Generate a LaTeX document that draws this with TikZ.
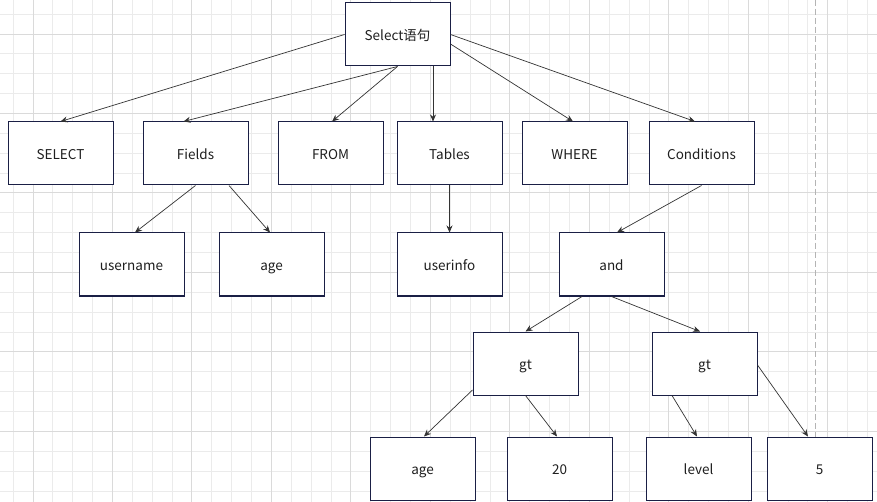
\documentclass[tikz,border=0pt]{standalone}
\usepackage{fontspec}
\newfontfamily\cjkfont{Noto Sans CJK SC}
\usetikzlibrary{arrows.meta}
\definecolor{boxline}{HTML}{1A1F45}
\definecolor{linegray}{HTML}{333333}
\definecolor{gridminor}{HTML}{EBEBEB}
\definecolor{gridmajor}{HTML}{DADADA}
\definecolor{pagebreak}{HTML}{B4B4B4}
\begin{document}
\begin{tikzpicture}[x=1pt,y=-1pt,font=\cjkfont\fontsize{13.5}{16}\selectfont,>={Stealth[length=7pt,width=6pt]},
 block/.style={draw=boxline,line width=1pt,fill=white,text=black!88,minimum width=105pt,minimum height=63pt,inner sep=0pt,text height=13pt,text depth=1pt},
 line/.style={->,draw=linegray,line width=.7pt},
 minor/.style={draw=gridminor,line width=.9pt},
 major/.style={draw=gridmajor,line width=.9pt}]
\useasboundingbox (0,0) rectangle (877,502);
% background grid
\begin{scope}
\clip (0,0) rectangle (877,502);
\fill[white] (0,0) rectangle (877,502);
\foreach \i in {0,...,44} \draw[minor] ({13.1+19.87*\i},0) -- ++(0,502);
\foreach \j in {0,...,25} \draw[minor] (0,{14.1+19.87*\j}) -- ++(877,0);
\foreach \i in {1,5,...,41} \draw[major] ({13.1+19.87*\i},0) -- ++(0,502);
\foreach \j in {1,5,...,25} \draw[major] (0,{14.1+19.87*\j}) -- ++(877,0);
\draw[pagebreak,line width=.9pt,dash pattern=on 6pt off 3pt] (815,0) -- (815,502);
\end{scope}
% nodes
\node[block] (sel) at (397.5,34.5) {Select语句};
\node[block] (select) at (60.5,153.5) {SELECT};
\node[block] (fields) at (195.5,153.5) {Fields};
\node[block] (from) at (330.5,153.5) {FROM};
\node[block] (tables) at (449.5,153.5) {Tables};
\node[block] (where) at (574.5,153.5) {WHERE};
\node[block] (cond) at (701.5,153.5) {Conditions};
\node[block] (user) at (131.5,264.5) {username};
\node[block] (age) at (271.5,264.5) {age};
\node[block] (info) at (449.5,264.5) {userinfo};
\node[block] (and) at (611.5,264.5) {and};
\node[block] (gtl) at (525.5,363.5) {gt};
\node[block] (gtr) at (704.5,363.5) {gt};
\node[block] (agev) at (422.5,468.5) {age};
\node[block] (twenty) at (559.5,468.5) {20};
\node[block] (level) at (698.5,468.5) {level};
\node[block] (five) at (819.5,468.5) {5};
% connectors
\draw[line] (sel.west) -- (select.north);
\draw[line] (sel.south) -- ([xshift=-12pt]fields.north);
\draw[line] (sel.south) -- ([xshift=1.5pt]from.north);
\draw[line] ([xshift=35.5pt]sel.south) -- ([xshift=-16.5pt]tables.north);
\draw[line] ([yshift=-9.5pt]sel.east) -- ([xshift=-1.5pt]where.north);
\draw[line] (sel.east) -- ([xshift=-6.5pt]cond.north);
\draw[line] (fields.south) -- ([xshift=3.5pt]user.north);
\draw[line] ([xshift=33.5pt]fields.south) -- ([xshift=-1.5pt]age.north);
\draw[line] (tables.south) -- (info.north);
\draw[line] (cond.south) -- ([xshift=5.5pt]and.north);
\draw[line] ([xshift=-29.5pt]and.south) -- (gtl.north);
\draw[line] (and.south) -- ([xshift=-4.5pt]gtr.north);
\draw[line] ([yshift=-26.5pt]gtl.west) -- ([xshift=1.5pt]agev.north);
\draw[line] (gtl.south) -- ([xshift=-2.5pt]twenty.north);
\draw[line] ([xshift=-32.5pt]gtr.south) -- ([xshift=-1.5pt]level.north);
\draw[line] ([yshift=-1.5pt]gtr.east) -- ([xshift=-11.5pt]five.north);
\end{tikzpicture}
\end{document}
